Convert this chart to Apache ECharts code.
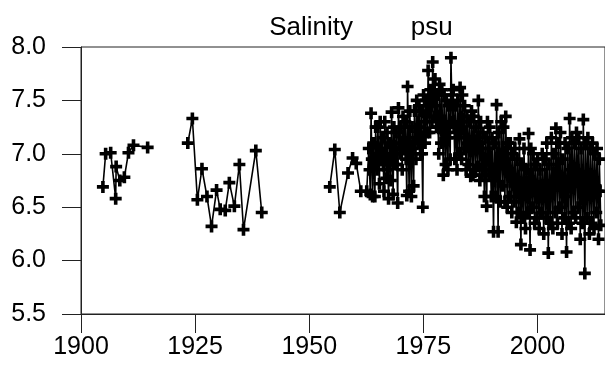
<!DOCTYPE html>
<html>
<head>
<meta charset="utf-8">
<script src="https://cdn.jsdelivr.net/npm/echarts@6/dist/echarts.min.js"></script>
<style>
html,body{margin:0;padding:0;background:#fff;}
#chart{width:605px;height:372px;}
</style>
</head>
<body>
<div id="chart"></div>
<script>
// ---- Data ----
const titleText = 'Salinity        psu';
const xTicks = [1900, 1925, 1950, 1975, 2000];
const yTicks = [5.5, 6.0, 6.5, 7.0, 7.5, 8.0];

const seg1Years = [1904.8, 1905.4, 1906.5, 1907.6, 1907.7, 1908.5, 1909.5, 1910.4, 1911.5, 1914.6];
const seg1Vals  = [6.69, 7.00, 7.01, 6.58, 6.88, 6.75, 6.78, 7.01, 7.08, 7.06];

const seg2Years = [1923.4, 1924.4, 1925.5, 1926.5, 1927.6, 1928.6, 1929.7, 1930.5, 1931.6, 1932.5, 1933.6, 1934.7, 1935.6, 1938.3, 1939.6];
const seg2Vals  = [7.10, 7.33, 6.57, 6.86, 6.60, 6.32, 6.66, 6.48, 6.47, 6.73, 6.51, 6.90, 6.29, 7.03, 6.45];

const seg3Years = [1954.5, 1955.6, 1956.7, 1958.5, 1959.5, 1960.3, 1961.3, 1962.6];
const seg3Vals  = [6.69, 7.04, 6.45, 6.82, 6.96, 6.91, 6.65, 6.65];

// Dense record: six samples per year
const sampleOffsets = [0.05, 0.22, 0.38, 0.55, 0.72, 0.88];
const denseYears = [1963,1964,1965,1966,1967,1968,1969,1970,1971,1972,1973,1974,1975,1976,1977,1978,1979,1980,1981,1982,1983,1984,1985,1986,1987,1988,1989,1990,1991,1992,1993,1994,1995,1996,1997,1998,1999,2000,2001,2002,2003,2004,2005,2006,2007,2008,2009,2010,2011,2012,2013];
const denseVals = [
  [7.05, 6.85, 6.62, 7.38, 6.95, 6.60],
  [7.10, 6.90, 6.60, 7.25, 7.00, 6.85],
  [7.25, 6.95, 6.72, 7.30, 7.05, 6.95],
  [7.15, 6.90, 6.65, 7.30, 7.00, 6.77],
  [7.20, 6.85, 6.58, 7.10, 6.95, 6.75],
  [7.39, 7.00, 6.62, 7.25, 7.05, 6.90],
  [7.20, 6.90, 6.54, 7.43, 7.10, 7.00],
  [7.25, 7.05, 6.85, 7.35, 7.15, 7.05],
  [7.30, 6.95, 6.61, 7.63, 7.10, 6.65],
  [7.40, 7.00, 6.60, 7.25, 7.05, 6.70],
  [7.40, 7.15, 6.95, 7.50, 7.25, 7.10],
  [7.45, 7.20, 7.00, 7.40, 7.00, 6.50],
  [7.55, 7.30, 7.10, 7.50, 7.35, 7.20],
  [7.78, 7.45, 7.20, 7.60, 7.45, 7.30],
  [7.86, 7.55, 7.35, 7.70, 7.45, 7.25],
  [7.55, 7.25, 7.00, 7.65, 7.35, 7.10],
  [7.60, 7.20, 6.80, 7.55, 7.20, 6.90],
  [7.50, 7.15, 6.85, 7.45, 7.20, 6.95],
  [7.90, 7.55, 7.30, 7.60, 7.25, 6.95],
  [7.45, 7.15, 6.85, 7.50, 7.25, 7.00],
  [7.62, 7.25, 6.95, 7.55, 7.30, 7.05],
  [7.45, 7.15, 6.85, 7.35, 7.10, 6.90],
  [7.30, 7.05, 6.79, 7.40, 7.10, 6.80],
  [7.35, 7.10, 6.85, 7.25, 7.05, 6.88],
  [7.50, 7.10, 6.75, 7.30, 7.05, 6.80],
  [7.20, 6.90, 6.60, 7.15, 6.85, 6.51],
  [7.30, 7.05, 6.80, 7.25, 6.90, 6.60],
  [7.15, 6.75, 6.27, 7.10, 6.85, 6.60],
  [7.46, 6.90, 6.27, 7.20, 6.90, 6.55],
  [7.30, 7.00, 6.70, 7.25, 6.90, 6.55],
  [7.35, 6.95, 6.50, 7.10, 6.85, 6.60],
  [7.10, 6.80, 6.45, 7.00, 6.75, 6.55],
  [7.05, 6.70, 6.36, 6.95, 6.70, 6.45],
  [7.14, 6.65, 6.15, 6.90, 6.65, 6.40],
  [7.05, 6.70, 6.30, 6.85, 6.65, 6.45],
  [7.19, 6.65, 6.10, 7.05, 6.75, 6.50],
  [7.00, 6.70, 6.35, 6.90, 6.65, 6.40],
  [6.95, 6.65, 6.30, 6.85, 6.65, 6.45],
  [7.00, 6.60, 6.25, 6.95, 6.70, 6.40],
  [7.10, 6.60, 6.07, 6.90, 6.60, 6.35],
  [7.15, 6.75, 6.30, 7.00, 6.70, 6.45],
  [7.24, 6.80, 6.35, 7.10, 6.80, 6.50],
  [7.20, 6.70, 6.25, 6.95, 6.70, 6.40],
  [7.10, 6.60, 6.08, 7.05, 6.70, 6.35],
  [7.33, 6.85, 6.30, 7.15, 6.80, 6.45],
  [7.10, 6.75, 6.40, 7.20, 6.85, 6.50],
  [7.15, 6.70, 6.20, 7.05, 6.70, 6.35],
  [7.32, 6.60, 5.88, 7.10, 6.75, 6.40],
  [7.15, 6.70, 6.25, 7.05, 6.70, 6.35],
  [7.10, 6.70, 6.30, 7.00, 6.70, 6.45],
  [7.05, 6.65, 6.20, 6.95, 6.65, 6.33]
];

// ---- Build series data (gaps are '-' breaks) ----
function pairs(xs, ys) { return xs.map((x, i) => [x, ys[i]]); }
const data = [];
data.push(...pairs(seg1Years, seg1Vals));
data.push(['-', '-']);
data.push(...pairs(seg2Years, seg2Vals));
data.push(['-', '-']);
data.push(...pairs(seg3Years, seg3Vals));
denseYears.forEach((yr, i) => {
  denseVals[i].forEach((v, j) => data.push([yr + sampleOffsets[j], v]));
});

const FONT = 'Liberation Sans, Arial, sans-serif';
const plusPath = 'path://M3.5,0 H6.5 V3.5 H10 V6.5 H6.5 V10 H3.5 V6.5 H0 V3.5 H3.5 Z';

const chart = echarts.init(document.getElementById('chart'), null, {renderer: 'canvas'});
chart.setOption({
  animation: false,
  backgroundColor: '#ffffff',
  grid: {left: 81, top: 47, bottom: 58, right: -5, show: true, borderColor: '#222', borderWidth: 1, backgroundColor: 'transparent'},
  graphic: [{
    type: 'text', x: 361, y: 28,
    style: {text: titleText, font: '26px ' + FONT, fill: '#000', align: 'center', verticalAlign: 'middle'}
  }],
  xAxis: {
    type: 'value', min: 1900, max: 2014.8, interval: 25,
    axisLine: {show: true, onZero: false, lineStyle: {color: '#222', width: 1}},
    axisTick: {show: true, length: 19, inside: false, customValues: xTicks, lineStyle: {color: '#222', width: 1}},
    axisLabel: {show: true, customValues: xTicks, margin: 21, color: '#000', fontSize: 25, fontFamily: FONT, formatter: v => String(v)},
    splitLine: {show: false}
  },
  yAxis: {
    type: 'value', min: 5.5, max: 8.0, interval: 0.5,
    axisLine: {show: true, onZero: false, lineStyle: {color: '#222', width: 1}},
    axisTick: {show: true, length: 19, inside: false, lineStyle: {color: '#222', width: 1}},
    axisLabel: {show: true, margin: 35, color: '#000', fontSize: 25, fontFamily: FONT, formatter: v => v.toFixed(1)},
    splitLine: {show: false}
  },
  series: [{
    type: 'line',
    data: data,
    connectNulls: false,
    showAllSymbol: true,
    symbol: plusPath,
    symbolSize: 12,
    itemStyle: {color: '#000'},
    lineStyle: {color: '#000', width: 1.6},
    emphasis: {disabled: true}
  }]
});
</script>
</body>
</html>
